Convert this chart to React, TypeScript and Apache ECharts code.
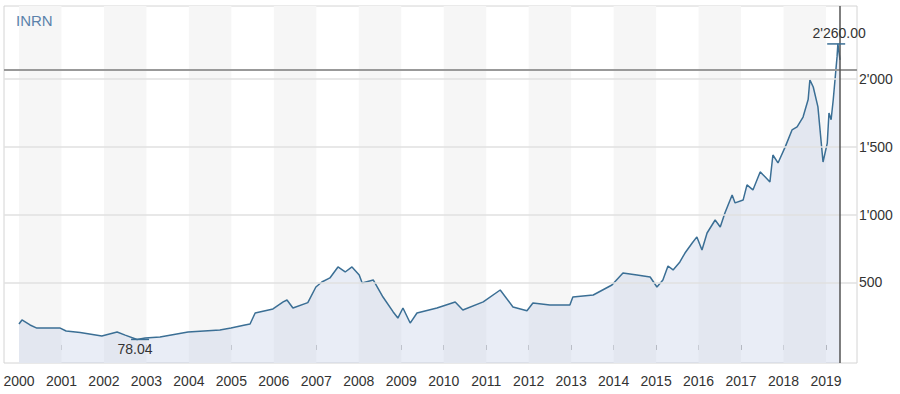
import React, { useEffect, useRef } from "react";
import * as echarts from "echarts";

const years = [
  2000.0, 2000.07, 2000.26, 2000.42, 2000.97, 2001.11, 2001.44, 2001.95, 2002.31, 2002.5,
  2002.78, 2002.97, 2003.32, 2003.98, 2004.73, 2004.99, 2005.32, 2005.44, 2005.56, 2005.98,
  2006.22, 2006.31, 2006.45, 2006.8, 2006.99, 2007.13, 2007.32, 2007.51, 2007.68, 2007.84,
  2008.01, 2008.08, 2008.34, 2008.57, 2008.81, 2008.92, 2009.04, 2009.21, 2009.37, 2009.84,
  2010.27, 2010.45, 2010.93, 2011.33, 2011.63, 2011.96, 2012.1, 2012.5, 2012.97, 2013.04,
  2013.52, 2013.96, 2014.22, 2014.55, 2014.86, 2015.02, 2015.16, 2015.28, 2015.4, 2015.56,
  2015.68, 2015.85, 2015.96, 2016.08, 2016.2, 2016.39, 2016.51, 2016.62, 2016.79, 2016.86,
  2017.05, 2017.14, 2017.28, 2017.45, 2017.57, 2017.68, 2017.75, 2017.87, 2018.04, 2018.2,
  2018.32, 2018.46, 2018.58, 2018.62, 2018.7, 2018.81, 2018.86, 2018.93, 2019.03, 2019.07,
  2019.12, 2019.17, 2019.26, 2019.28, 2019.33,
];
const values = [
  192, 222, 185, 162, 162, 140, 130, 103, 133, 110,
  78.04, 89, 96, 133, 148, 162, 185, 192, 273, 303,
  355, 369, 310, 350, 465, 502, 532, 613, 576, 613,
  554, 495, 517, 391, 281, 236, 310, 199, 273, 310,
  355, 295, 355, 443, 318, 290, 347, 332, 332, 391,
  406, 480, 569, 554, 539, 465, 517, 620, 591, 650,
  716, 790, 835, 739, 864, 960, 908, 1012, 1145, 1086,
  1108, 1219, 1182, 1315, 1278, 1241, 1440, 1381, 1500, 1625,
  1647, 1720, 1850, 1994, 1942, 1795, 1625, 1388, 1528, 1750,
  1700, 1846, 2164, 2260, 2142,
];
const yearTicks = [
  2000, 2001, 2002, 2003, 2004, 2005, 2006, 2007, 2008, 2009,
  2010, 2011, 2012, 2013, 2014, 2015, 2016, 2017, 2018, 2019,
];
const yTicks = [500, 1000, 1500, 2000];
const maxValue = 2260;
const minValue = 78.04;
const minYear = 2002.85;
const maxYear = 2019.24;
const lastYear = 2019.33;
const refLevel = 2068;
const title = "INRN";

const fmt = (v: number, dec = 0) => {
  const s = v.toFixed(dec);
  const [i, d] = s.split(".");
  const ii = i.replace(/\B(?=(\d{3})+(?!\d))/g, "'");
  return d ? ii + "." + d : ii;
};

export default function App() {
  const ref = useRef<HTMLDivElement>(null);
  useEffect(() => {
    if (!ref.current) return;
    const chart = echarts.init(ref.current, null, { renderer: "svg" });
    const font = "Liberation Sans, Arial, sans-serif";
    const bands = yearTicks
      .filter((y) => y % 2 === 0)
      .map((y) => [{ xAxis: y }, { xAxis: y + 1 }]);
    chart.setOption({
      animation: false,
      backgroundColor: "#fff",
      title: {
        text: title,
        left: 11,
        top: 8,
        textStyle: { color: "#5b82ab", fontSize: 15, fontWeight: "normal", fontFamily: font },
      },
      grid: {
        left: 4,
        right: 43,
        top: 6,
        bottom: 31,
        show: true,
        borderColor: "#d4d4d4",
        borderWidth: 1,
        backgroundColor: "transparent",
      },
      xAxis: {
        type: "value",
        min: 1999.647,
        max: 2019.73,
        axisLine: { show: false },
        splitLine: { show: false },
        axisTick: {
          show: true,
          inside: true,
          length: 5,
          customValues: yearTicks,
          lineStyle: { color: "#b0b0b0" },
        },
        axisLabel: {
          customValues: yearTicks,
          formatter: (v: number) => String(Math.round(v)),
          color: "#333",
          fontSize: 14,
          fontFamily: font,
          margin: 11,
        },
      },
      yAxis: {
        type: "value",
        position: "right",
        min: -96,
        max: 2540,
        axisLine: { show: false },
        axisTick: { show: false },
        splitLine: { show: false },
        axisLabel: {
          customValues: yTicks,
          formatter: (v: number) => fmt(v),
          color: "#333",
          fontSize: 14,
          fontFamily: font,
          margin: 2,
        },
      },
      series: [
        {
          type: "line",
          data: [],
          z: 1,
          silent: true,
          markArea: {
            silent: true,
            itemStyle: { color: "#f6f6f6" },
            data: bands,
          },
          markLine: {
            silent: true,
            symbol: "none",
            label: { show: false },
            lineStyle: { color: "#e0e0e0", width: 1.5, type: "solid" },
            data: yTicks.map((v) => ({ yAxis: v })),
          },
        },
        {
          type: "line",
          z: 3,
          data: years.map((y, i) => [y, values[i]]),
          showSymbol: false,
          symbol: "none",
          lineStyle: { color: "#3b6f95", width: 1.5 },
          areaStyle: { color: "rgba(186,200,228,0.46)", origin: "start" },
          markLine: {
            silent: true,
            symbol: "none",
            label: { show: false },
            data: [
              { yAxis: refLevel, lineStyle: { color: "#999", width: 2, type: "solid" } },
              { xAxis: lastYear, lineStyle: { color: "#555", width: 1.5, type: "solid" } },
            ],
          },
          markPoint: {
            silent: true,
            data: [
              {
                coord: [maxYear, maxValue],
                symbol: "rect",
                symbolSize: [18, 1.5],
                itemStyle: { color: "#3b6f95" },
                label: {
                  show: true,
                  position: "top",
                  distance: 3,
                  offset: [3, 0],
                  formatter: fmt(maxValue, 2),
                  color: "#333",
                  fontSize: 14,
                  fontFamily: font,
                },
              },
              {
                coord: [minYear, minValue],
                symbol: "rect",
                symbolSize: [18, 1.5],
                itemStyle: { color: "#3b6f95" },
                label: {
                  show: true,
                  position: "bottom",
                  distance: 2,
                  offset: [-5, 0],
                  formatter: fmt(minValue, 2),
                  color: "#333",
                  fontSize: 14,
                  fontFamily: font,
                },
              },
            ],
          },
        },
      ],
    });
    return () => chart.dispose();
  }, []);
  return (
    <div
      ref={ref}
      style={{ position: "fixed", left: 0, top: 0, width: 900, height: 394 }}
    />
  );
}
